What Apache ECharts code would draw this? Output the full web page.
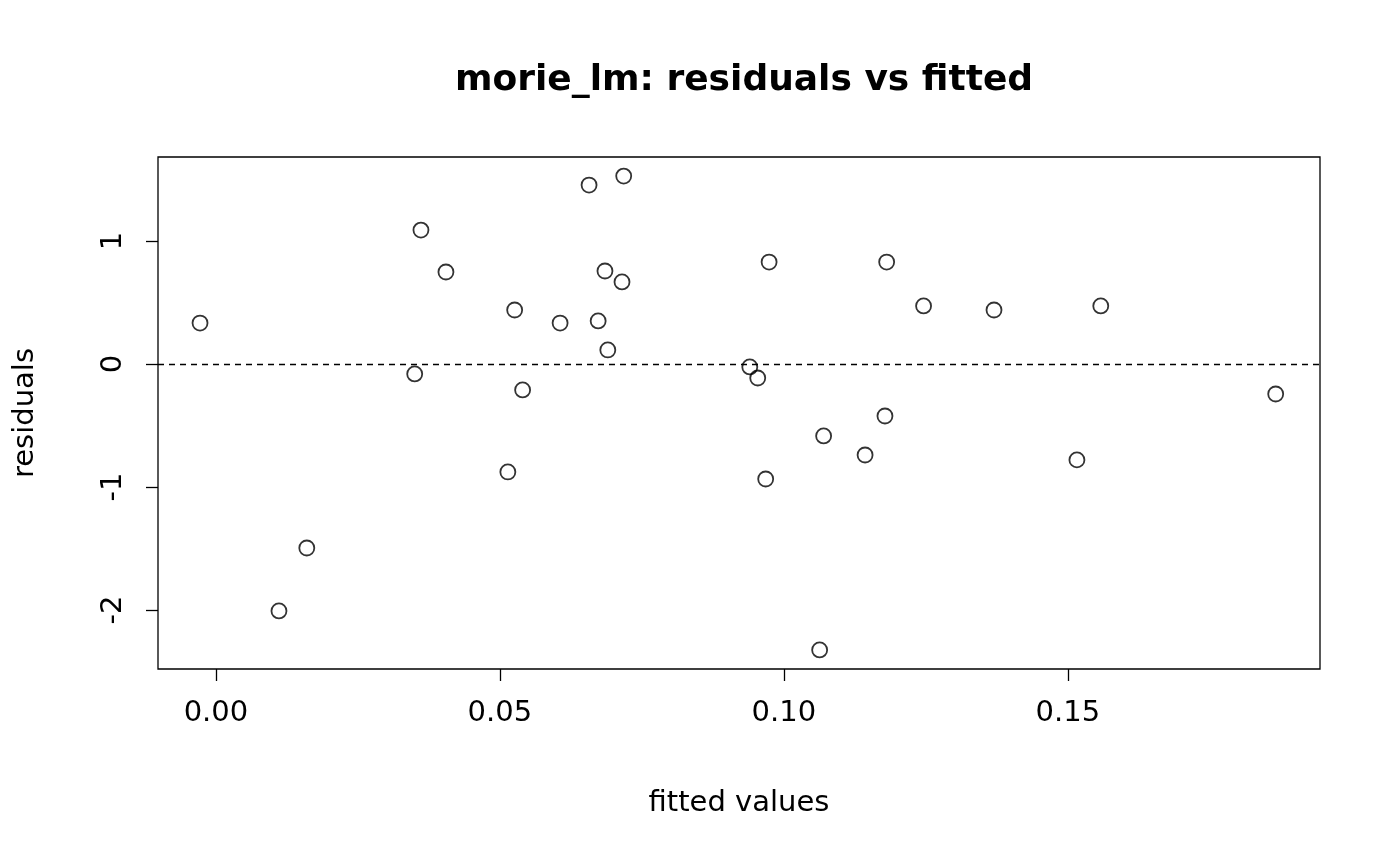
<!DOCTYPE html>
<html>
<head>
<meta charset="utf-8">
<script src="https://cdn.jsdelivr.net/npm/echarts@6/dist/echarts.min.js"></script>
<style>html,body{margin:0;padding:0;background:#fff}#c{width:1400px;height:866px}</style>
</head>
<body>
<div id="c"></div>
<script>
// fitted values vs residuals
const fitted = [-0.0028, 0.0111, 0.0160, 0.0350, 0.0361, 0.0405, 0.0514, 0.0526, 0.0540, 0.0606,
  0.0657, 0.0673, 0.0685, 0.0690, 0.0715, 0.0718, 0.0940, 0.0954, 0.0968, 0.0974,
  0.1063, 0.1070, 0.1143, 0.1178, 0.1181, 0.1246, 0.1370, 0.1516, 0.1558, 0.1866]
const residuals = [0.333, -2.008, -1.496, -0.081, 1.089, 0.748, -0.878, 0.439, -0.211, 0.333,
  1.455, 0.350, 0.756, 0.114, 0.667, 1.528, -0.024, -0.114, -0.935, 0.829,
  -2.325, -0.585, -0.740, -0.423, 0.829, 0.472, 0.439, -0.780, 0.472, -0.244]
const xTicks = [0, 0.05, 0.1, 0.15]
const yTicks = [-2, -1, 0, 1]

const font = 'DejaVu Sans'
const chart = echarts.init(document.getElementById('c'))
chart.setOption({
  animation: false,
  title: {
    text: 'morie_lm: residuals vs fitted',
    left: 739, top: 58, textAlign: 'center',
    textStyle: { fontFamily: font, fontSize: 36, fontWeight: 'bold', color: '#000' },
  },
  grid: { left: 158, right: 80, top: 157, bottom: 197, show: true, borderColor: '#000', borderWidth: 1.3 },
  xAxis: {
    type: 'value', min: -0.0102, max: 0.1944,
    name: 'fitted values', nameLocation: 'middle', nameGap: 120,
    nameTextStyle: { fontFamily: font, fontSize: 29, color: '#000' },
    axisLine: { show: false, onZero: false },
    splitLine: { show: false },
    axisTick: { show: true, length: 12, inside: false, customValues: xTicks, lineStyle: { color: '#000', width: 1.3 } },
    axisLabel: { customValues: xTicks, margin: 30, fontFamily: font, fontSize: 29, color: '#000',
      formatter: v => v.toFixed(2) },
  },
  yAxis: {
    type: 'value', min: -2.48, max: 1.683,
    name: 'residuals', nameLocation: 'middle', nameGap: 118, nameRotate: 90,
    nameTextStyle: { fontFamily: font, fontSize: 29, color: '#000' },
    axisLine: { show: false, onZero: false },
    splitLine: { show: false },
    axisTick: { show: true, length: 12, customValues: yTicks, lineStyle: { color: '#000', width: 1.3 } },
    axisLabel: { customValues: yTicks, rotate: 90, margin: 30, fontFamily: font, fontSize: 29, color: '#000',
      align: 'center', verticalAlign: 'bottom' },
  },
  series: [{
    type: 'scatter',
    data: fitted.map((f, i) => [f, residuals[i]]),
    symbol: 'circle', symbolSize: 15,
    itemStyle: { color: 'rgba(0,0,0,0)', borderColor: '#000', borderWidth: 1.8 },
    markLine: {
      silent: true, symbol: 'none', label: { show: false },
      lineStyle: { color: '#000', type: [6, 5], width: 1.3 },
      data: [{ yAxis: 0 }],
    },
  }],
})
</script>
</body>
</html>
